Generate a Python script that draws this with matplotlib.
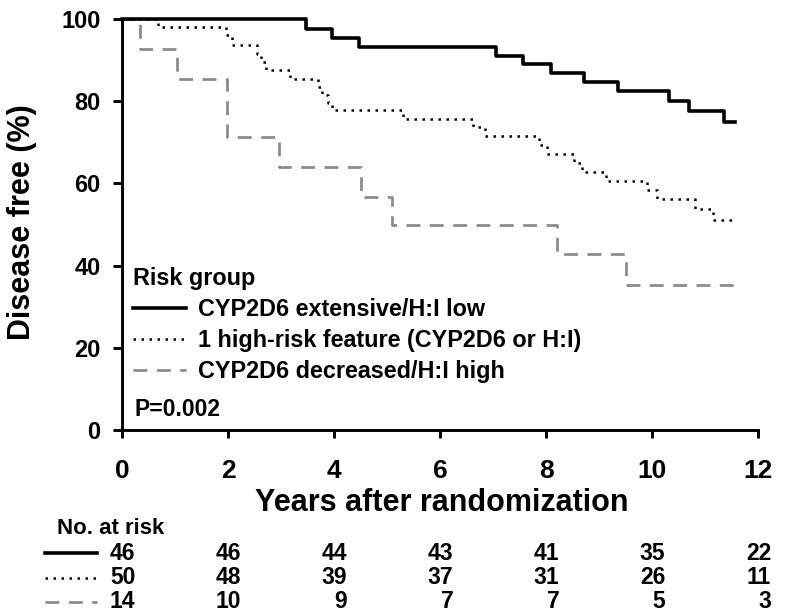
import numpy as np
import matplotlib
matplotlib.use('Agg')
import matplotlib.pyplot as plt
import matplotlib.transforms as mtransforms

plt.rcParams['font.family'] = ['Liberation Sans', 'DejaVu Sans']
plt.rcParams['font.weight'] = 'bold'

# Kaplan-Meier steps (years, % disease free)
low_t = [0, 3.48, 3.96, 4.47, 7.05, 7.57, 8.10, 8.72, 9.35, 10.33, 10.69, 11.35, 11.57]
low_s = [100, 97.6, 95.4, 93.3, 91.1, 89.0, 86.8, 84.7, 82.4, 80.0, 77.6, 75.0, 75.0]

one_t = [0, 0.68, 1.97, 2.07, 2.54, 2.62, 2.72, 3.17, 3.70, 3.78, 3.88, 3.97,
         5.31, 6.63, 6.85, 7.86, 8.01, 8.52, 8.67, 9.14, 9.90, 10.09, 10.81, 11.16, 11.50]
one_s = [100, 98.0, 96.0, 93.7, 91.6, 89.6, 87.6, 85.5, 83.4, 81.4, 79.6, 77.9,
         75.7, 73.8, 71.5, 69.3, 67.1, 65.0, 62.8, 60.6, 58.5, 56.3, 53.7, 51.1, 51.1]

high_t = [0, 0.34, 1.03, 1.98, 2.97, 4.50, 5.09, 8.20, 9.50, 11.55]
high_s = [100, 92.6, 85.4, 71.2, 64.1, 56.8, 49.9, 42.8, 35.4, 35.4]

labels = ['CYP2D6 extensive/H:I low',
          '1 high-risk feature (CYP2D6 or H:I)',
          'CYP2D6 decreased/H:I high']

risk_times = [0, 2, 4, 6, 8, 10, 12]
risk_low = [46, 46, 44, 43, 41, 35, 22]
risk_one = [50, 48, 39, 37, 31, 26, 11]
risk_high = [14, 10, 9, 7, 7, 5, 3]

gray = '#8c8c8c'
styles = [dict(color='black', lw=2.6, ls='-'),
          dict(color='black', lw=1.8, ls=(0, (1, 2.2))),
          dict(color=gray, lw=2.0, ls=(0, (5, 3.4)))]

W, H = 785, 615
fig = plt.figure(figsize=(W / 100, H / 100), dpi=100)
ax = fig.add_axes([122 / W, (H - 430) / H, 636 / W, 411 / H])

series = [(high_t, high_s), (one_t, one_s), (low_t, low_s)]
order = [2, 1, 0]
lines = {}
for (t, s), i in zip(series, order):
    ln, = ax.step(t, s, where='post', clip_on=False, label=labels[i],
                  zorder=3 + (2 - i), **styles[i])
    lines[i] = ln

ax.set_xlim(0, 12)
ax.set_ylim(0, 100)
ax.set_xticks(np.arange(0, 13, 2))
ax.set_yticks(np.arange(0, 101, 20))
for sp in ['top', 'right']:
    ax.spines[sp].set_visible(False)
for sp in ['left', 'bottom']:
    ax.spines[sp].set_linewidth(2.1)
ax.tick_params(axis='x', direction='out', length=6, width=2.1, pad=15, labelsize=19)
ax.tick_params(axis='y', direction='out', length=6.5, width=2.1, pad=9, labelsize=17)

ax.set_xlabel('Years after randomization', fontsize=22, fontweight='bold', va='center')
ax.xaxis.set_label_coords(0.502, (430 - 503) / 411)
ax.set_ylabel('Disease free (%)', fontsize=22, fontweight='bold', va='center')
ax.yaxis.set_label_coords((22 - 122) / 636, 0.506)

leg = ax.legend([lines[0], lines[1], lines[2]], labels, title='Risk group',
                loc='upper left', bbox_to_anchor=(133 / W, 1 - 267 / H),
                bbox_transform=fig.transFigure, frameon=False,
                prop=dict(size=16.8, weight='bold'),
                title_fontproperties=dict(size=16.8, weight='bold'),
                alignment='left', handlelength=2.25, handletextpad=0.55,
                labelspacing=0.34, borderpad=0, borderaxespad=0)

fig.text(135 / W, 1 - 410 / H, 'P=0.002', fontsize=16.5, fontweight='bold',
         ha='left', va='center')

# number at risk table
trans = mtransforms.blended_transform_factory(ax.transData, fig.transFigure)
fig.text(57 / W, 1 - 528 / H, 'No. at risk', fontsize=16, fontweight='bold',
         ha='left', va='center')
rows = [risk_low, risk_one, risk_high]
row_y = [553, 578, 602]
for i, (vals, y) in enumerate(zip(rows, row_y)):
    yf = 1 - y / H
    fig.lines.append(plt.Line2D([45 / W, 97 / W], [yf, yf], transform=fig.transFigure,
                                **styles[i]))
    for x, v in zip(risk_times, vals):
        ax.text(x + 0.25, yf, str(v), transform=trans, fontsize=16.5,
                fontweight='bold', ha='right', va='center')

fig.savefig('out.png', dpi=100)
